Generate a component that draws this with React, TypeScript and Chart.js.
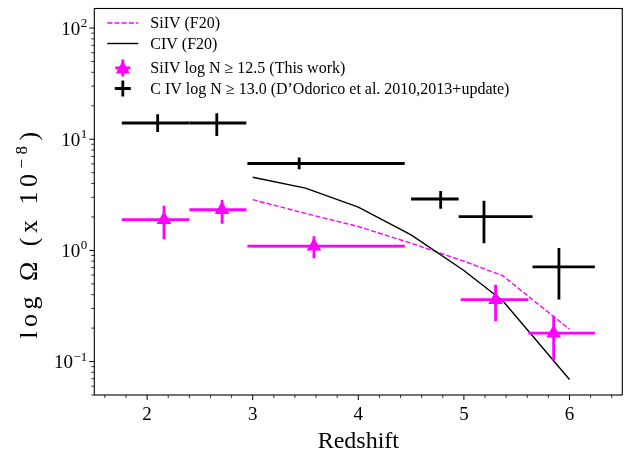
import React, { useEffect, useRef } from 'react';
import { Chart, registerables } from 'chart.js';

Chart.register(...registerables);

const FONT = "'Liberation Serif', 'DejaVu Serif', serif";
const MAGENTA = '#ff00ff';

// F20 model curves
const F20_Z = [3.0, 3.5, 4.0, 4.5, 5.0, 5.37, 6.0];
const F20_SIIV = [2.86, 2.15, 1.64, 1.16, 0.8, 0.59, 0.195];
const F20_CIV = [4.55, 3.63, 2.45, 1.38, 0.66, 0.35, 0.069];

// SiIV (this work)
const SIIV_Z = [2.16, 2.71, 3.58, 5.3, 5.85];
const SIIV_ZLO = [1.76, 2.4, 2.95, 4.97, 5.61];
const SIIV_ZHI = [2.4, 2.94, 4.44, 5.61, 6.24];
const SIIV_OMEGA = [1.89, 2.32, 1.09, 0.36, 0.18];
const SIIV_LO = [1.26, 1.74, 0.85, 0.23, 0.102];
const SIIV_HI = [2.52, 2.84, 1.34, 0.49, 0.256];

// C IV (D'Odorico et al.)
const CIV_Z = [2.1, 2.66, 3.44, 4.78, 5.19, 5.9];
const CIV_ZLO = [1.76, 2.4, 2.95, 4.5, 4.95, 5.65];
const CIV_ZHI = [2.4, 2.94, 4.44, 4.95, 5.65, 6.24];
const CIV_OMEGA = [14.0, 14.0, 6.05, 2.9, 2.01, 0.71];
const CIV_LO = [11.6, 10.7, 5.36, 2.37, 1.16, 0.362];
const CIV_HI = [16.8, 17.1, 6.85, 3.42, 2.79, 1.05];

// Axes
const X_MIN = 1.5;
const X_MAX = 6.5;
const Y_MIN = 0.05;
const Y_MAX = 150;
const X_MAJOR = [2, 3, 4, 5, 6];
const X_LABELS = ['2', '3', '4', '5', '6'];
const X_MINOR = [1.6, 1.8, 2.2, 2.4, 2.6, 2.8, 3.2, 3.4, 3.6, 3.8, 4.2, 4.4, 4.6, 4.8, 5.2, 5.4, 5.6, 5.8, 6.2, 6.4];
const Y_MAJOR = [0.1, 1, 10, 100];
const Y_LABEL_BASE = '10';
const Y_LABEL_EXP = ['\u22121', '0', '1', '2'];
const Y_MINOR = [0.05, 0.06, 0.07, 0.08, 0.09, 0.2, 0.3, 0.4, 0.5, 0.6, 0.7, 0.8, 0.9, 2, 3, 4, 5, 6, 7, 8, 9, 20, 30, 40, 50, 60, 70, 80, 90];
const X_TITLE = 'Redshift';
const Y_TITLE_MAIN = 'log \u03A9 (x 10';
const Y_TITLE_EXP = '\u22128';
const Y_TITLE_END = ')';

const LEGEND_LABELS = [
  'SiIV (F20)',
  'CIV (F20)',
  'SiIV log N \u2265 12.5 (This work)',
  'C IV log N \u2265 13.0 (D\u2019Odorico et al. 2010,2013+update)',
];

function drawErrorBars(chart: any) {
  const ctx = chart.ctx;
  const xs = chart.scales.x;
  const ys = chart.scales.y;
  const draw = (z: number[], zlo: number[], zhi: number[], v: number[], lo: number[], hi: number[], color: string) => {
    ctx.save();
    ctx.strokeStyle = color;
    ctx.lineWidth = 2.8;
    ctx.lineCap = 'butt';
    for (let i = 0; i < z.length; i++) {
      const py = ys.getPixelForValue(v[i]);
      const px = xs.getPixelForValue(z[i]);
      ctx.beginPath();
      ctx.moveTo(xs.getPixelForValue(zlo[i]), py);
      ctx.lineTo(xs.getPixelForValue(zhi[i]), py);
      ctx.moveTo(px, ys.getPixelForValue(lo[i]));
      ctx.lineTo(px, ys.getPixelForValue(hi[i]));
      ctx.stroke();
    }
    ctx.restore();
  };
  draw(SIIV_Z, SIIV_ZLO, SIIV_ZHI, SIIV_OMEGA, SIIV_LO, SIIV_HI, MAGENTA);
  draw(CIV_Z, CIV_ZLO, CIV_ZHI, CIV_OMEGA, CIV_LO, CIV_HI, '#000');
}

function drawDecor(chart: any) {
  const ctx = chart.ctx;
  const xs = chart.scales.x;
  const ys = chart.scales.y;
  const { left, right, top, bottom } = chart.chartArea;
  ctx.save();
  ctx.strokeStyle = '#000';
  // ticks
  ctx.lineWidth = 1;
  ctx.beginPath();
  X_MAJOR.forEach((v) => {
    const p = xs.getPixelForValue(v);
    ctx.moveTo(p, bottom);
    ctx.lineTo(p, bottom + 5);
  });
  Y_MAJOR.forEach((v) => {
    const p = ys.getPixelForValue(v);
    ctx.moveTo(left - 5, p);
    ctx.lineTo(left, p);
  });
  ctx.stroke();
  ctx.lineWidth = 0.8;
  ctx.beginPath();
  X_MINOR.forEach((v) => {
    const p = xs.getPixelForValue(v);
    ctx.moveTo(p, bottom);
    ctx.lineTo(p, bottom + 3);
  });
  Y_MINOR.forEach((v) => {
    const p = ys.getPixelForValue(v);
    ctx.moveTo(left - 3, p);
    ctx.lineTo(left, p);
  });
  ctx.stroke();
  // frame
  ctx.lineWidth = 1.1;
  ctx.strokeRect(left, top, right - left, bottom - top);

  // y tick labels: 10 with superscript exponent
  ctx.fillStyle = '#000';
  ctx.textBaseline = 'alphabetic';
  ctx.textAlign = 'right';
  Y_MAJOR.forEach((v, i) => {
    const p = ys.getPixelForValue(v);
    const xr = left - 7;
    ctx.font = `13px ${FONT}`;
    const ew = ctx.measureText(Y_LABEL_EXP[i]).width;
    ctx.fillText(Y_LABEL_EXP[i], xr, p - 1);
    ctx.font = `19px ${FONT}`;
    ctx.fillText(Y_LABEL_BASE, xr - ew - 0.5, p + 6.5);
  });

  // y title (rotated)
  ctx.save();
  ctx.translate(28, 233);
  ctx.rotate(-Math.PI / 2);
  ctx.textAlign = 'left';
  ctx.textBaseline = 'alphabetic';
  (ctx as any).letterSpacing = '4.5px';
  ctx.font = `26px ${FONT}`;
  const w1 = ctx.measureText(Y_TITLE_MAIN).width;
  ctx.font = `17px ${FONT}`;
  const w2 = ctx.measureText(Y_TITLE_EXP).width;
  ctx.font = `26px ${FONT}`;
  const w3 = ctx.measureText(Y_TITLE_END).width;
  const total = w1 + w2 + w3 + 2;
  let x0 = -total / 2;
  const base = 8.5;
  ctx.fillText(Y_TITLE_MAIN, x0, base);
  x0 += w1 + 1;
  ctx.font = `17px ${FONT}`;
  ctx.fillText(Y_TITLE_EXP, x0, base - 10);
  x0 += w2 + 1;
  ctx.font = `26px ${FONT}`;
  ctx.fillText(Y_TITLE_END, x0, base);
  (ctx as any).letterSpacing = '0px';
  ctx.restore();

  // legend
  const rows = [23, 43.5, 68, 88.5];
  const hx = left + 13;
  const tx = left + 56;
  // row 1 dashed magenta
  ctx.save();
  ctx.strokeStyle = MAGENTA;
  ctx.lineWidth = 1.4;
  ctx.setLineDash([5, 2.2]);
  ctx.beginPath();
  ctx.moveTo(hx, rows[0]);
  ctx.lineTo(hx + 31, rows[0]);
  ctx.stroke();
  ctx.restore();
  // row 2 solid black
  ctx.save();
  ctx.strokeStyle = '#000';
  ctx.lineWidth = 1.4;
  ctx.beginPath();
  ctx.moveTo(hx, rows[1]);
  ctx.lineTo(hx + 31, rows[1]);
  ctx.stroke();
  ctx.restore();
  // row 3 magenta triangle with error bars
  const cx = hx + 15.5;
  ctx.save();
  ctx.strokeStyle = MAGENTA;
  ctx.fillStyle = MAGENTA;
  ctx.lineWidth = 2.8;
  ctx.beginPath();
  ctx.moveTo(cx - 7.5, rows[2]);
  ctx.lineTo(cx + 7.5, rows[2]);
  ctx.moveTo(cx, rows[2] - 8.5);
  ctx.lineTo(cx, rows[2] + 8.5);
  ctx.stroke();
  ctx.beginPath();
  ctx.moveTo(cx, rows[2] - 7.5);
  ctx.lineTo(cx + 7, rows[2] + 5.5);
  ctx.lineTo(cx - 7, rows[2] + 5.5);
  ctx.closePath();
  ctx.fill();
  ctx.restore();
  // row 4 black cross
  ctx.save();
  ctx.strokeStyle = '#000';
  ctx.lineWidth = 2.8;
  ctx.beginPath();
  ctx.moveTo(cx - 8, rows[3]);
  ctx.lineTo(cx + 8, rows[3]);
  ctx.moveTo(cx, rows[3] - 8);
  ctx.lineTo(cx, rows[3] + 8);
  ctx.stroke();
  ctx.restore();
  ctx.fillStyle = '#000';
  ctx.font = `16px ${FONT}`;
  ctx.textAlign = 'left';
  ctx.textBaseline = 'middle';
  LEGEND_LABELS.forEach((t, i) => ctx.fillText(t, tx, rows[i] + 1));
  ctx.restore();
}

const decorPlugin = {
  id: 'decor',
  beforeDatasetDraw(chart: any, args: any) {
    if (args.index === 0) drawErrorBars(chart);
  },
  afterDraw(chart: any) {
    drawDecor(chart);
  },
};

export default function App() {
  const ref = useRef<HTMLCanvasElement | null>(null);
  useEffect(() => {
    if (!ref.current) return;
    const chart = new Chart(ref.current, {
      type: 'scatter',
      data: {
        datasets: [
          {
            label: LEGEND_LABELS[2],
            data: SIIV_Z.map((z, i) => ({ x: z, y: SIIV_OMEGA[i] })),
            pointStyle: 'triangle',
            pointRadius: 8.5,
            backgroundColor: MAGENTA,
            borderColor: MAGENTA,
            borderWidth: 0,
            showLine: false,
          } as any,
          {
            type: 'line',
            label: LEGEND_LABELS[1],
            data: F20_Z.map((z, i) => ({ x: z, y: F20_CIV[i] })),
            borderColor: '#000',
            borderWidth: 1.4,
            pointRadius: 0,
            fill: false,
            tension: 0,
          } as any,
          {
            type: 'line',
            label: LEGEND_LABELS[0],
            data: F20_Z.map((z, i) => ({ x: z, y: F20_SIIV[i] })),
            borderColor: MAGENTA,
            borderWidth: 1.4,
            borderDash: [5, 2.2],
            pointRadius: 0,
            fill: false,
            tension: 0,
          } as any,
        ],
      },
      options: {
        responsive: false,
        animation: false,
        devicePixelRatio: 1,
        layout: { padding: { left: 0, top: 2.7, right: 8.7, bottom: 0 } },
        plugins: { legend: { display: false }, tooltip: { enabled: false } },
        scales: {
          x: {
            type: 'linear',
            min: X_MIN,
            max: X_MAX,
            afterBuildTicks: (s: any) => {
              s.ticks = X_MAJOR.map((v) => ({ value: v }));
            },
            afterFit: (s: any) => {
              s.height = 61;
              s.paddingLeft = 0;
              s.paddingRight = 0;
            },
            ticks: {
              callback: (v: any) => X_LABELS[X_MAJOR.indexOf(Number(v))],
              font: { family: FONT, size: 19 },
              color: '#000',
              padding: 9,
              maxRotation: 0,
              autoSkip: false,
            },
            grid: { display: false, drawTicks: false },
            border: { display: false },
            title: {
              display: true,
              text: X_TITLE,
              font: { family: FONT, size: 24 },
              color: '#000',
              padding: { top: 0, bottom: 0 },
            },
          },
          y: {
            type: 'logarithmic',
            min: Y_MIN,
            max: Y_MAX,
            afterBuildTicks: (s: any) => {
              s.ticks = Y_MAJOR.map((v) => ({ value: v }));
            },
            afterFit: (s: any) => {
              s.width = 94.3;
              s.paddingTop = 0;
              s.paddingBottom = 0;
            },
            ticks: { display: false },
            grid: { display: false, drawTicks: false },
            border: { display: false },
          },
        },
      },
      plugins: [decorPlugin],
    } as any);
    return () => chart.destroy();
  }, []);
  return (
    <div style={{ position: 'fixed', left: 0, top: 0, width: 631, height: 456, background: '#fff' }}>
      <canvas ref={ref} width={631} height={456} style={{ display: 'block' }} />
    </div>
  );
}
